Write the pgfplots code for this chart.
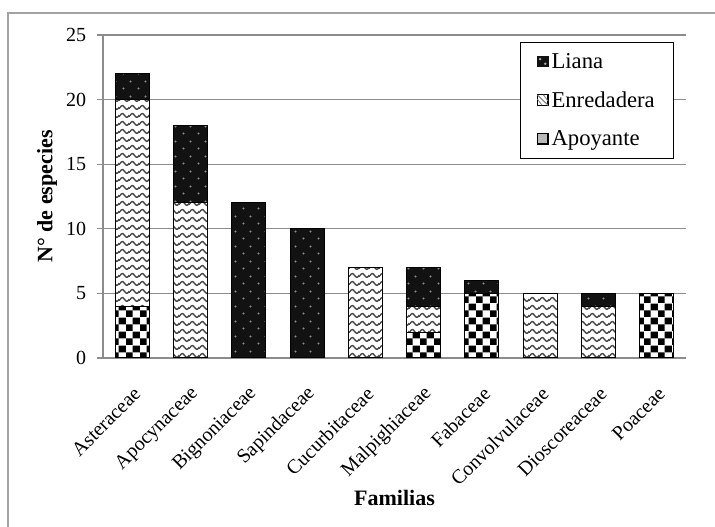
\documentclass[border=0pt]{standalone}
\usepackage{fontspec}
\setmainfont{Liberation Serif}
\usepackage{pgfplots}
\pgfplotsset{compat=1.18}
\usetikzlibrary{patterns.meta}
\definecolor{axgray}{RGB}{140,140,140}
\definecolor{lianafill}{RGB}{18,18,18}
\definecolor{wavegray}{RGB}{70,70,70}
\makeatletter
\tikzset{nopost/.code={\let\tikz@postactions\pgfutil@empty}}
\makeatother

\tikzdeclarepattern{
  name=checker, type=colored,
  bounding box={(0pt,0pt) and (10.5pt,10.5pt)},
  tile size={(10.5pt,10.5pt)},
  code={
    \fill[black] (0pt,0pt) rectangle (5.25pt,5.25pt);
    \fill[black] (5.25pt,5.25pt) rectangle (10.5pt,10.5pt);
  }
}
\tikzdeclarepattern{
  name=wave, type=colored,
  bounding box={(0pt,0pt) and (7.5pt,6pt)},
  tile size={(7.5pt,6pt)},
  code={
    \draw[wavegray, line width=1.15pt] (-1.875pt,1.4pt) cos (0pt,3pt) sin (1.875pt,4.6pt) cos (3.75pt,3pt) sin (5.625pt,1.4pt) cos (7.5pt,3pt) sin (9.375pt,4.6pt);
  }
}
\tikzdeclarepattern{
  name=lianadots, type=colored,
  bounding box={(0pt,0pt) and (11.25pt,11.25pt)},
  tile size={(11.25pt,11.25pt)},
  code={
    \fill[gray!90] (2.8pt,2.8pt) circle (0.9pt);
    \fill[gray!90] (8.4pt,8.4pt) circle (0.9pt);
  }
}

\begin{document}
\begin{tikzpicture}
\path[use as bounding box] (-77.25pt,-126.75pt) rectangle (459pt,268.5pt);
\draw[axgray!80, line width=0.9pt] (-71.25pt,-130pt) -- (-71.25pt,258.75pt) -- (462pt,258.75pt);
\begin{axis}[
  at={(0pt,0pt)}, anchor=south west,
  scale only axis, width=437.25pt, height=242.25pt,
  ybar stacked, bar width=25.5pt,
  xmin=-0.5, xmax=9.5, ymin=0, ymax=25,
  xtick={0,...,9},
  xticklabels={Asteraceae,Apocynaceae,Bignoniaceae,Sapindaceae,Cucurbitaceae,Malpighiaceae,Fabaceae,Convolvulaceae,Dioscoreaceae,Poaceae},
  ytick={0,5,...,25},
  axis x line*=bottom, axis y line*=left,
  x axis line style={axgray, line width=1.5pt},
  y axis line style={axgray, line width=0.9pt},
  ymajorgrids, grid style={axgray, line width=0.9pt},
  xtick style={draw=none},
  ytick style={axgray, line width=0.9pt},
  tick align=outside, major tick length=4.5pt,
  /pgf/number format/assume math mode=true,
  yticklabel style={font=\fontsize{15}{18}\selectfont, inner sep=0pt, xshift=-8pt},
  xticklabel style={font=\fontsize{15}{18}\selectfont, inner sep=0pt, xshift=3.75pt, yshift=-20pt, rotate=45, anchor=east},
  xlabel={Familias}, ylabel={N° de especies},
  every axis x label/.style={at={(axis description cs:0.5,0)}, anchor=center, yshift=-105pt, font=\fontsize{16.5}{19}\selectfont\bfseries},
  every axis y label/.style={at={(axis description cs:0,0.5)}, xshift=-42pt, anchor=center, rotate=90, font=\fontsize{16.5}{19}\selectfont\bfseries},
  legend style={at={(1,1)}, anchor=north east, xshift=-9pt, yshift=-5.25pt, draw=black, line width=0.9pt, font=\fontsize{17}{20}\selectfont, row sep=12pt, inner xsep=12pt, inner ysep=6pt},
  legend cell align=left,
  reverse legend,
]
\addplot[draw=black, line width=0.75pt, fill=white, postaction={pattern={checker}},
  legend image code/.code={\draw[nopost, black, line width=1.2pt, fill=gray!55] (0pt,-3.6pt) rectangle (8pt,4.2pt);}]
  coordinates {(0,4) (1,0) (2,0) (3,0) (4,0) (5,2) (6,5) (7,0) (8,0) (9,5)};
\addlegendentry{Apoyante}
\addplot[draw=black, line width=0.75pt, fill=white, postaction={pattern={wave}},
  legend image code/.code={\draw[nopost, black, line width=0.9pt, fill=white] (0pt,-3.6pt) rectangle (8pt,4.2pt); \draw[nopost, gray, line width=0.8pt] (0pt,4.2pt) -- (8pt,-3.6pt); \draw[nopost, gray, line width=0.6pt] (0pt,1pt) -- (3.5pt,-3.6pt) (4.5pt,4.2pt) -- (8pt,-0.5pt);}]
  coordinates {(0,16) (1,12) (2,0) (3,0) (4,7) (5,2) (6,0) (7,5) (8,4) (9,0)};
\addlegendentry{Enredadera}
\addplot[draw=black, line width=0.75pt, fill=lianafill, postaction={pattern={lianadots}},
  legend image code/.code={\fill[nopost, lianafill] (0pt,-3.6pt) rectangle (8pt,4.2pt); \fill[nopost, gray!70] (2pt,2pt) circle (0.5pt) (5.8pt,-1.5pt) circle (0.5pt);}]
  coordinates {(0,2) (1,6) (2,12) (3,10) (4,0) (5,3) (6,1) (7,0) (8,1) (9,0)};
\addlegendentry{Liana}
\end{axis}
\end{tikzpicture}
\end{document}
